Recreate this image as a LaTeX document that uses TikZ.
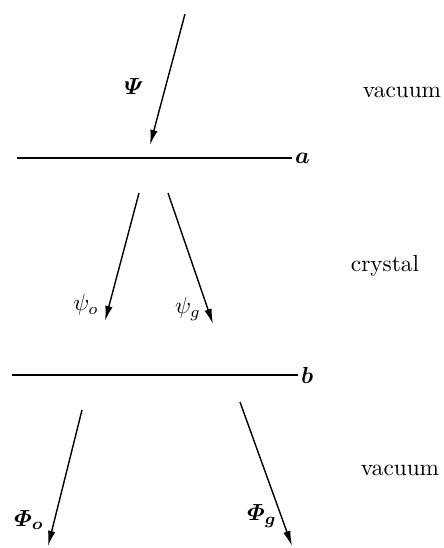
\documentclass[tikz,border=0pt]{standalone}
\usepackage{amsmath}
\usepackage{bm}
\usetikzlibrary{arrows.meta}

\begin{document}
\begin{tikzpicture}[
  x=0.43pt, y=-0.43pt,
  ray/.style={-{Latex[length=6.5pt,width=3.2pt]}, line width=0.6pt},
  face/.style={line width=0.7pt},
  lbl/.style={inner sep=1pt}]
\useasboundingbox (0,0) rectangle (444,548);

% surfaces
\coordinate (aL) at (17,158);
\coordinate (aR) at (292,158);
\coordinate (bL) at (12,375);
\coordinate (bR) at (298,375);
\draw[face] (aL) -- (aR) node[right, lbl] (la) {$\bm{a}$};
\draw[face] (bL) -- (bR) node[right, lbl] (lb) {$\bm{b}$};

% media
\node (vac1) at (402,92) {vacuum};
\node (cry) at (385,266) {crystal};
\node (vac2) at (400,470) {vacuum};

% incident wave
\coordinate (in0) at (185,14);
\coordinate (in1) at (150,145);
\draw[ray] (in0) -- (in1);
\node[lbl] (Psi) at (134,87) {$\bm{\varPsi}$};

% waves in the crystal
\coordinate (o0) at (139,193);
\coordinate (o1) at (105,321);
\coordinate (g0) at (168,193);
\coordinate (g1) at (213,324);
\draw[ray] (o0) -- (o1);
\draw[ray] (g0) -- (g1);
\node[lbl] (psio) at (86,305) {$\psi_o$};
\node[lbl] (psig) at (188,309) {$\psi_g$};

% exit waves
\coordinate (Po0) at (82,410);
\coordinate (Po1) at (48,546);
\coordinate (Pg0) at (240,402);
\coordinate (Pg1) at (292,546);
\draw[ray] (Po0) -- (Po1);
\draw[ray] (Pg0) -- (Pg1);
\node[lbl] (Phio) at (29,520) {$\bm{\varPhi_o}$};
\node[lbl] (Phig) at (262,516) {$\bm{\varPhi_g}$};
\end{tikzpicture}
\end{document}
